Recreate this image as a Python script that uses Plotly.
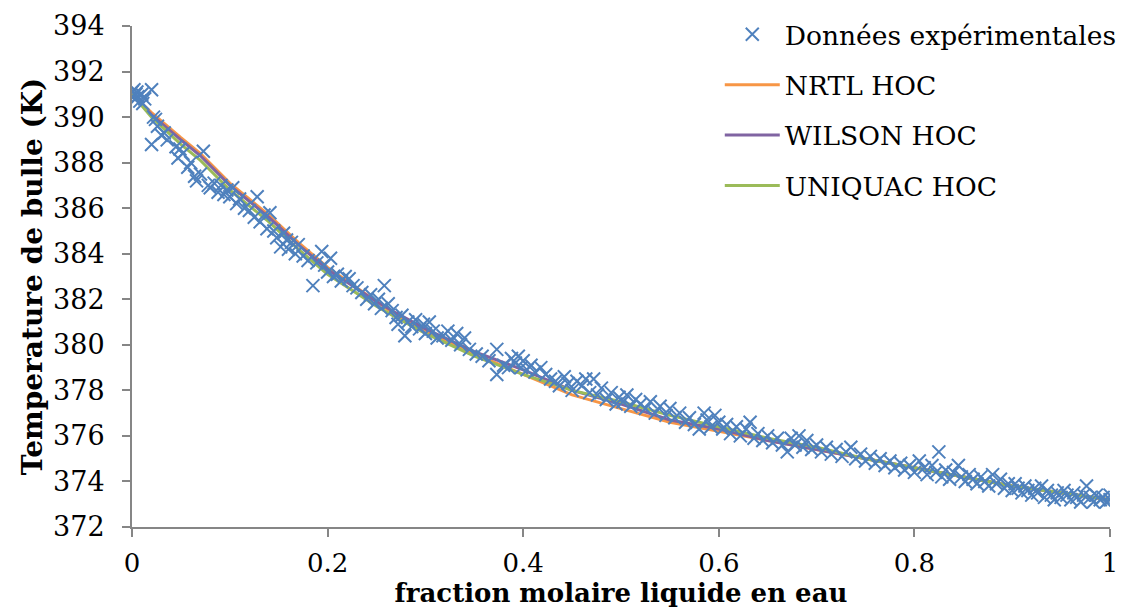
import plotly.graph_objects as go

# Experimental bubble-point data: liquid mole fraction of water vs temperature (K)
x_exp = [
    0.000, 0.000, 0.002, 0.003, 0.004, 0.005, 0.006, 0.008, 0.010, 0.011, 0.013, 0.020, 0.020, 0.022,
    0.024, 0.026, 0.030, 0.033, 0.036,
    0.045, 0.049, 0.047, 0.052, 0.057, 0.060, 0.064, 0.066, 0.073, 0.070, 0.078, 0.080, 0.084, 0.088,
    0.091, 0.094, 0.097, 0.100, 0.103,
    0.107, 0.110, 0.115, 0.120, 0.128, 0.125, 0.131, 0.135, 0.141, 0.138, 0.145, 0.148, 0.152, 0.155,
    0.158, 0.160, 0.163, 0.167, 0.170, 0.175, 0.180, 0.185, 0.189, 0.194, 0.197, 0.200, 0.203, 0.206,
    0.210, 0.214, 0.218, 0.222, 0.226, 0.230, 0.235, 0.240, 0.244, 0.248, 0.252, 0.258, 0.255, 0.262,
    0.266, 0.270, 0.272, 0.276, 0.279, 0.282, 0.286, 0.290, 0.294, 0.298, 0.300,
    0.304, 0.308, 0.312, 0.318, 0.323, 0.327, 0.332, 0.336, 0.340, 0.345, 0.352, 0.358, 0.365, 0.373,
    0.373, 0.380, 0.385, 0.388, 0.392, 0.395, 0.398, 0.400, 0.404, 0.408,
    0.412, 0.418, 0.423, 0.428, 0.433, 0.437, 0.442, 0.446, 0.450, 0.455, 0.460, 0.464, 0.468, 0.472,
    0.476, 0.480, 0.485, 0.490, 0.495, 0.498, 0.502,
    0.506, 0.510, 0.515, 0.520, 0.525, 0.530, 0.535, 0.540, 0.546, 0.550, 0.555, 0.560, 0.566, 0.570,
    0.575, 0.580, 0.585, 0.588, 0.592, 0.596, 0.600,
    0.604, 0.608, 0.612, 0.618, 0.622, 0.628, 0.632, 0.636, 0.640, 0.645, 0.650, 0.655, 0.660, 0.665,
    0.670, 0.674, 0.678, 0.682, 0.686, 0.690, 0.695, 0.700,
    0.705, 0.710, 0.715, 0.720, 0.726, 0.730, 0.735, 0.740, 0.745, 0.750, 0.755, 0.760, 0.765, 0.770,
    0.775, 0.780, 0.786, 0.790, 0.795, 0.800, 0.805, 0.810,
    0.813, 0.818, 0.822, 0.825, 0.828, 0.832, 0.836, 0.840, 0.845, 0.848, 0.852, 0.856, 0.860, 0.864,
    0.868, 0.872, 0.876, 0.880, 0.884, 0.888, 0.892, 0.896, 0.900,
    0.903, 0.906, 0.910, 0.913, 0.916, 0.920, 0.923, 0.926, 0.930, 0.933, 0.936, 0.940, 0.943, 0.946,
    0.950, 0.953, 0.956, 0.960, 0.963, 0.966, 0.970, 0.973, 0.976, 0.980, 0.983, 0.986, 0.990, 0.993,
    0.996, 1.000, 1.000,
]
t_exp = [
    391.1, 390.9, 391.2, 390.8, 391.0, 391.1, 390.9, 390.7, 391.0, 390.6, 390.8, 391.2, 388.8, 390.0,
    389.9, 389.6, 389.2, 389.3, 389.0,
    388.7, 388.6, 388.2, 388.4, 387.8, 388.0, 387.4, 387.2, 388.5, 387.5, 387.0, 386.9, 387.1, 386.7,
    387.0, 386.6, 386.8, 386.5, 386.9,
    386.2, 386.4, 386.0, 385.9, 386.5, 385.6, 385.4, 385.7, 385.8, 385.1, 385.0, 384.7, 384.3, 384.9,
    384.6, 384.2, 384.5, 384.0, 384.4, 383.9, 383.7, 382.6, 383.6, 384.1, 383.5, 383.2, 383.8, 383.0,
    383.1, 382.8, 383.0, 382.9, 382.6, 382.5, 382.3, 382.0, 382.2, 381.8, 382.0, 382.6, 381.6, 381.8,
    381.5, 381.2, 380.9, 381.3, 380.4, 381.0, 380.8, 381.1, 380.7, 380.9, 380.5,
    381.0, 380.6, 380.3, 380.4, 380.6, 380.2, 380.5, 380.0, 380.3, 379.8, 379.6, 379.5, 379.3, 379.8,
    378.7, 379.1, 379.0, 379.4, 379.2, 379.5, 379.0, 379.3, 378.9, 379.1,
    378.8, 379.0, 378.7, 378.5, 378.4, 378.2, 378.6, 378.3, 378.0, 378.4, 378.2, 378.5, 377.9, 378.5,
    377.8, 378.1, 377.6, 377.9, 377.4, 377.7, 377.5,
    377.8, 377.3, 377.6, 377.4, 377.2, 377.5, 377.0, 377.3, 376.9, 377.2, 376.8, 377.0, 376.6, 376.8,
    376.5, 376.3, 377.0, 376.7, 376.4, 376.9, 376.6,
    376.3, 376.5, 376.1, 376.4, 376.0, 376.3, 376.6, 375.9, 376.1, 375.8, 376.0, 375.7, 375.9, 375.6,
    375.3, 375.9, 375.6, 376.0, 375.5, 375.8, 375.4, 375.6,
    375.3, 375.5, 375.2, 375.4, 375.1, 375.3, 375.5, 375.0, 375.2, 374.9, 375.1, 374.8, 375.0, 374.7,
    374.9, 374.6, 374.8, 374.5, 374.7, 374.4, 374.9, 374.6,
    374.3, 374.7, 374.4, 375.3, 374.2, 374.5, 374.1, 374.4, 374.7, 374.2, 374.0, 374.3, 374.1, 373.9,
    374.2, 374.0, 373.8, 374.3, 373.9, 374.1, 373.7, 373.9, 373.6,
    373.9, 373.7, 373.5, 373.8, 373.6, 373.4, 373.7, 373.5, 373.8, 373.3, 373.6, 373.4, 373.2, 373.5,
    373.3, 373.6, 373.4, 373.2, 373.5, 373.3, 373.1, 373.4, 373.8, 373.3, 373.1, 373.4, 373.2, 373.3,
    373.1, 373.2, 373.4,
]

# Model predictions (Aspen HOC vapour model)
x_model = [0.0, 0.02, 0.05, 0.07, 0.10, 0.14, 0.17, 0.20, 0.25, 0.27, 0.30, 0.35, 0.40, 0.45,
           0.50, 0.55, 0.60, 0.65, 0.70, 0.75, 0.80, 0.85, 0.90, 0.95, 1.0]
t_nrtl = [391.0, 390.2, 389.1, 388.4, 387.1, 385.7, 384.5, 383.4, 381.9, 381.3, 380.6, 379.6, 378.7,
          377.8, 377.2, 376.6, 376.2, 375.8, 375.4, 375.0, 374.6, 374.2, 373.8, 373.5, 373.2]
t_wilson = [391.0, 390.1, 389.0, 388.3, 387.0, 385.6, 384.4, 383.3, 381.9, 381.4, 380.7, 379.7, 378.9,
            378.0, 377.4, 376.7, 376.3, 375.8, 375.4, 375.0, 374.6, 374.2, 373.8, 373.5, 373.2]
t_uniquac = [391.0, 390.0, 388.8, 388.1, 386.8, 385.4, 384.2, 383.1, 381.7, 381.2, 380.5, 379.5, 378.7,
             378.0, 377.5, 376.9, 376.4, 375.9, 375.5, 375.0, 374.6, 374.2, 373.8, 373.5, 373.2]

y_ticks = list(range(372, 395, 2))
x_ticks = [0, 0.2, 0.4, 0.6, 0.8, 1]
x_tick_text = ["0", "0.2", "0.4", "0.6", "0.8", "1"]

FONT = "DejaVu Serif"
AXIS_GREY = "#868686"

fig = go.Figure()

models = [
    ("NRTL HOC", t_nrtl, "#F79646"),
    ("WILSON HOC", t_wilson, "#8064A2"),
    ("UNIQUAC HOC", t_uniquac, "#9BBB59"),
]
for rank, (name, values, color) in enumerate(models, start=2):
    fig.add_trace(go.Scatter(
        x=x_model, y=values, mode="lines", name=name,
        line=dict(color=color, width=3),
        legendgroup=name, legendrank=rank,
    ))

fig.add_trace(go.Scatter(
    x=x_exp, y=t_exp, mode="markers", name="Données expérimentales",
    marker=dict(symbol="x-thin", size=13, line=dict(color="#4F81BD", width=2), color="#4F81BD"),
    legendgroup="exp", legendrank=1,
))

fig.update_layout(
    width=1128, height=608,
    margin=dict(l=132, r=18, t=26, b=81, autoexpand=False),
    plot_bgcolor="white", paper_bgcolor="white",
    font=dict(family=FONT, size=27, color="black"),
    showlegend=True,
    legend=dict(
        x=0.601, y=1.031, xanchor="left", yanchor="top",
        bgcolor="rgba(0,0,0,0)", font=dict(family=FONT, size=26.5),
        tracegroupgap=13, itemwidth=55,
    ),
    xaxis=dict(
        range=[0, 1], tickvals=x_ticks, ticktext=x_tick_text,
        showline=True, linecolor=AXIS_GREY, linewidth=2,
        ticks="outside", ticklen=8, tickcolor=AXIS_GREY, tickwidth=2,
        ticklabelstandoff=4, automargin=False,
        showgrid=False, zeroline=False,
        tickfont=dict(family=FONT, size=26),
        title=dict(text="<b>fraction molaire liquide en eau</b>", standoff=5,
                   font=dict(family=FONT, size=26)),
    ),
    yaxis=dict(
        range=[372, 394], tickvals=y_ticks,
        showline=True, linecolor=AXIS_GREY, linewidth=2,
        ticks="outside", ticklen=8, tickcolor=AXIS_GREY, tickwidth=2,
        ticklabelstandoff=12, automargin=False,
        showgrid=False, zeroline=False,
        tickfont=dict(family=FONT, size=27),
        title=dict(text="<b>Temperature de bulle (K)</b>", standoff=2,
                   font=dict(family=FONT, size=28)),
    ),
)

fig.write_html("out.html")
